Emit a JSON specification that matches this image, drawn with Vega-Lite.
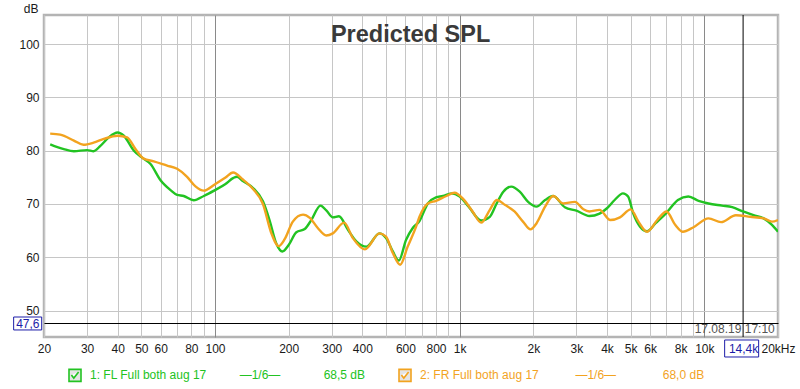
{
  "$schema": "https://vega.github.io/schema/vega-lite/v6.json",
  "width": 734,
  "height": 322,
  "autosize": {"type": "none"},
  "padding": {"left": 44, "top": 15, "right": 22, "bottom": 52},
  "background": "white",
  "config": {
    "view": {"stroke": "#b4b4b4", "strokeWidth": 2.5},
    "font": "Liberation Sans"
  },
  "datasets": {
    "curves": [
      {"series": "1: FL Full both aug 17", "f": 21.2, "db": 81.2},
      {"series": "1: FL Full both aug 17", "f": 24.1, "db": 80.3},
      {"series": "1: FL Full both aug 17", "f": 26.5, "db": 79.9},
      {"series": "1: FL Full both aug 17", "f": 30, "db": 80.1},
      {"series": "1: FL Full both aug 17", "f": 31.9, "db": 79.9},
      {"series": "1: FL Full both aug 17", "f": 34.0, "db": 80.9},
      {"series": "1: FL Full both aug 17", "f": 36.8, "db": 82.5},
      {"series": "1: FL Full both aug 17", "f": 40, "db": 83.4},
      {"series": "1: FL Full both aug 17", "f": 42.4, "db": 82.8},
      {"series": "1: FL Full both aug 17", "f": 46.6, "db": 80.0},
      {"series": "1: FL Full both aug 17", "f": 50, "db": 78.8},
      {"series": "1: FL Full both aug 17", "f": 54.5, "db": 77.5},
      {"series": "1: FL Full both aug 17", "f": 60, "db": 74.4},
      {"series": "1: FL Full both aug 17", "f": 65.8, "db": 72.6},
      {"series": "1: FL Full both aug 17", "f": 70, "db": 71.7},
      {"series": "1: FL Full both aug 17", "f": 74.5, "db": 71.5},
      {"series": "1: FL Full both aug 17", "f": 81.8, "db": 70.7},
      {"series": "1: FL Full both aug 17", "f": 90, "db": 71.5},
      {"series": "1: FL Full both aug 17", "f": 100, "db": 72.6},
      {"series": "1: FL Full both aug 17", "f": 110, "db": 73.7},
      {"series": "1: FL Full both aug 17", "f": 119, "db": 74.9},
      {"series": "1: FL Full both aug 17", "f": 123, "db": 75.1},
      {"series": "1: FL Full both aug 17", "f": 130, "db": 74.3},
      {"series": "1: FL Full both aug 17", "f": 143, "db": 73.0},
      {"series": "1: FL Full both aug 17", "f": 157, "db": 70.5},
      {"series": "1: FL Full both aug 17", "f": 167, "db": 67.0},
      {"series": "1: FL Full both aug 17", "f": 178, "db": 62.6},
      {"series": "1: FL Full both aug 17", "f": 188.5, "db": 61.1},
      {"series": "1: FL Full both aug 17", "f": 200, "db": 62.3},
      {"series": "1: FL Full both aug 17", "f": 215, "db": 64.7},
      {"series": "1: FL Full both aug 17", "f": 232.6, "db": 65.3},
      {"series": "1: FL Full both aug 17", "f": 247.6, "db": 67.0},
      {"series": "1: FL Full both aug 17", "f": 269.7, "db": 69.7},
      {"series": "1: FL Full both aug 17", "f": 285, "db": 68.8},
      {"series": "1: FL Full both aug 17", "f": 303, "db": 67.5},
      {"series": "1: FL Full both aug 17", "f": 321, "db": 67.7},
      {"series": "1: FL Full both aug 17", "f": 349, "db": 65.2},
      {"series": "1: FL Full both aug 17", "f": 378, "db": 63.0},
      {"series": "1: FL Full both aug 17", "f": 416, "db": 62.0},
      {"series": "1: FL Full both aug 17", "f": 470, "db": 64.5},
      {"series": "1: FL Full both aug 17", "f": 500, "db": 63.6},
      {"series": "1: FL Full both aug 17", "f": 533, "db": 61.1},
      {"series": "1: FL Full both aug 17", "f": 564, "db": 59.4},
      {"series": "1: FL Full both aug 17", "f": 604, "db": 63.3},
      {"series": "1: FL Full both aug 17", "f": 643, "db": 65.5},
      {"series": "1: FL Full both aug 17", "f": 685, "db": 66.8},
      {"series": "1: FL Full both aug 17", "f": 741, "db": 70.1},
      {"series": "1: FL Full both aug 17", "f": 800, "db": 71.25},
      {"series": "1: FL Full both aug 17", "f": 855, "db": 71.5},
      {"series": "1: FL Full both aug 17", "f": 923, "db": 72.0},
      {"series": "1: FL Full both aug 17", "f": 1000, "db": 71.4},
      {"series": "1: FL Full both aug 17", "f": 1088, "db": 69.5},
      {"series": "1: FL Full both aug 17", "f": 1224, "db": 66.9},
      {"series": "1: FL Full both aug 17", "f": 1328, "db": 67.6},
      {"series": "1: FL Full both aug 17", "f": 1416, "db": 70.1},
      {"series": "1: FL Full both aug 17", "f": 1508, "db": 72.3},
      {"series": "1: FL Full both aug 17", "f": 1625, "db": 73.25},
      {"series": "1: FL Full both aug 17", "f": 1760, "db": 72.3},
      {"series": "1: FL Full both aug 17", "f": 1904, "db": 70.4},
      {"series": "1: FL Full both aug 17", "f": 2062, "db": 69.5},
      {"series": "1: FL Full both aug 17", "f": 2234, "db": 70.75},
      {"series": "1: FL Full both aug 17", "f": 2410, "db": 71.5},
      {"series": "1: FL Full both aug 17", "f": 2690, "db": 69.4},
      {"series": "1: FL Full both aug 17", "f": 3000, "db": 68.75},
      {"series": "1: FL Full both aug 17", "f": 3390, "db": 67.75},
      {"series": "1: FL Full both aug 17", "f": 3730, "db": 68.2},
      {"series": "1: FL Full both aug 17", "f": 4000, "db": 69.2},
      {"series": "1: FL Full both aug 17", "f": 4300, "db": 70.75},
      {"series": "1: FL Full both aug 17", "f": 4650, "db": 72.0},
      {"series": "1: FL Full both aug 17", "f": 4880, "db": 71.4},
      {"series": "1: FL Full both aug 17", "f": 5120, "db": 68.25},
      {"series": "1: FL Full both aug 17", "f": 5460, "db": 65.75},
      {"series": "1: FL Full both aug 17", "f": 5830, "db": 64.9},
      {"series": "1: FL Full both aug 17", "f": 6320, "db": 66.4},
      {"series": "1: FL Full both aug 17", "f": 6970, "db": 68.25},
      {"series": "1: FL Full both aug 17", "f": 7800, "db": 70.75},
      {"series": "1: FL Full both aug 17", "f": 8600, "db": 71.4},
      {"series": "1: FL Full both aug 17", "f": 9470, "db": 70.6},
      {"series": "1: FL Full both aug 17", "f": 10400, "db": 70.1},
      {"series": "1: FL Full both aug 17", "f": 11800, "db": 69.7},
      {"series": "1: FL Full both aug 17", "f": 13000, "db": 69.4},
      {"series": "1: FL Full both aug 17", "f": 14400, "db": 68.6},
      {"series": "1: FL Full both aug 17", "f": 15880, "db": 67.9},
      {"series": "1: FL Full both aug 17", "f": 17470, "db": 67.3},
      {"series": "1: FL Full both aug 17", "f": 18900, "db": 66.1},
      {"series": "1: FL Full both aug 17", "f": 20000, "db": 64.8},
      {"series": "2: FR Full both aug 17", "f": 21.2, "db": 83.2},
      {"series": "2: FR Full both aug 17", "f": 23.3, "db": 83.0},
      {"series": "2: FR Full both aug 17", "f": 26.5, "db": 81.9},
      {"series": "2: FR Full both aug 17", "f": 29.0, "db": 81.1},
      {"series": "2: FR Full both aug 17", "f": 31.9, "db": 81.5},
      {"series": "2: FR Full both aug 17", "f": 35.1, "db": 82.2},
      {"series": "2: FR Full both aug 17", "f": 40, "db": 82.8},
      {"series": "2: FR Full both aug 17", "f": 43.7, "db": 82.5},
      {"series": "2: FR Full both aug 17", "f": 47.3, "db": 80.3},
      {"series": "2: FR Full both aug 17", "f": 51.1, "db": 78.5},
      {"series": "2: FR Full both aug 17", "f": 56.2, "db": 78.0},
      {"series": "2: FR Full both aug 17", "f": 63.7, "db": 77.2},
      {"series": "2: FR Full both aug 17", "f": 70, "db": 76.6},
      {"series": "2: FR Full both aug 17", "f": 76.9, "db": 75.1},
      {"series": "2: FR Full both aug 17", "f": 83.2, "db": 73.3},
      {"series": "2: FR Full both aug 17", "f": 90, "db": 72.5},
      {"series": "2: FR Full both aug 17", "f": 100, "db": 73.7},
      {"series": "2: FR Full both aug 17", "f": 110, "db": 74.9},
      {"series": "2: FR Full both aug 17", "f": 118.5, "db": 75.9},
      {"series": "2: FR Full both aug 17", "f": 130, "db": 74.6},
      {"series": "2: FR Full both aug 17", "f": 143, "db": 72.8},
      {"series": "2: FR Full both aug 17", "f": 157, "db": 70.0},
      {"series": "2: FR Full both aug 17", "f": 170, "db": 64.5},
      {"series": "2: FR Full both aug 17", "f": 182, "db": 62.1},
      {"series": "2: FR Full both aug 17", "f": 192.6, "db": 63.4},
      {"series": "2: FR Full both aug 17", "f": 208, "db": 66.7},
      {"series": "2: FR Full both aug 17", "f": 229, "db": 68.0},
      {"series": "2: FR Full both aug 17", "f": 244, "db": 67.4},
      {"series": "2: FR Full both aug 17", "f": 263, "db": 65.5},
      {"series": "2: FR Full both aug 17", "f": 285, "db": 64.1},
      {"series": "2: FR Full both aug 17", "f": 303, "db": 64.5},
      {"series": "2: FR Full both aug 17", "f": 337, "db": 66.5},
      {"series": "2: FR Full both aug 17", "f": 366, "db": 63.6},
      {"series": "2: FR Full both aug 17", "f": 410, "db": 61.5},
      {"series": "2: FR Full both aug 17", "f": 470, "db": 64.5},
      {"series": "2: FR Full both aug 17", "f": 500, "db": 63.9},
      {"series": "2: FR Full both aug 17", "f": 533, "db": 60.8},
      {"series": "2: FR Full both aug 17", "f": 571, "db": 58.6},
      {"series": "2: FR Full both aug 17", "f": 613, "db": 62.0},
      {"series": "2: FR Full both aug 17", "f": 664, "db": 65.8},
      {"series": "2: FR Full both aug 17", "f": 685, "db": 67.6},
      {"series": "2: FR Full both aug 17", "f": 741, "db": 70.1},
      {"series": "2: FR Full both aug 17", "f": 800, "db": 70.6},
      {"series": "2: FR Full both aug 17", "f": 883, "db": 71.5},
      {"series": "2: FR Full both aug 17", "f": 953, "db": 72.1},
      {"series": "2: FR Full both aug 17", "f": 1035, "db": 70.9},
      {"series": "2: FR Full both aug 17", "f": 1129, "db": 68.6},
      {"series": "2: FR Full both aug 17", "f": 1224, "db": 66.5},
      {"series": "2: FR Full both aug 17", "f": 1328, "db": 68.9},
      {"series": "2: FR Full both aug 17", "f": 1416, "db": 70.75},
      {"series": "2: FR Full both aug 17", "f": 1535, "db": 69.8},
      {"series": "2: FR Full both aug 17", "f": 1675, "db": 68.6},
      {"series": "2: FR Full both aug 17", "f": 1814, "db": 66.7},
      {"series": "2: FR Full both aug 17", "f": 1947, "db": 65.25},
      {"series": "2: FR Full both aug 17", "f": 2062, "db": 66.4},
      {"series": "2: FR Full both aug 17", "f": 2234, "db": 69.5},
      {"series": "2: FR Full both aug 17", "f": 2410, "db": 71.5},
      {"series": "2: FR Full both aug 17", "f": 2647, "db": 70.1},
      {"series": "2: FR Full both aug 17", "f": 2958, "db": 70.4},
      {"series": "2: FR Full both aug 17", "f": 3204, "db": 69.0},
      {"series": "2: FR Full both aug 17", "f": 3390, "db": 68.6},
      {"series": "2: FR Full both aug 17", "f": 3730, "db": 68.9},
      {"series": "2: FR Full both aug 17", "f": 4130, "db": 67.0},
      {"series": "2: FR Full both aug 17", "f": 4520, "db": 67.5},
      {"series": "2: FR Full both aug 17", "f": 5000, "db": 69.0},
      {"series": "2: FR Full both aug 17", "f": 5380, "db": 66.7},
      {"series": "2: FR Full both aug 17", "f": 5830, "db": 64.8},
      {"series": "2: FR Full both aug 17", "f": 6420, "db": 67.0},
      {"series": "2: FR Full both aug 17", "f": 7000, "db": 68.6},
      {"series": "2: FR Full both aug 17", "f": 7600, "db": 66.1},
      {"series": "2: FR Full both aug 17", "f": 8170, "db": 64.8},
      {"series": "2: FR Full both aug 17", "f": 9000, "db": 65.6},
      {"series": "2: FR Full both aug 17", "f": 10400, "db": 67.3},
      {"series": "2: FR Full both aug 17", "f": 11700, "db": 66.6},
      {"series": "2: FR Full both aug 17", "f": 13450, "db": 67.9},
      {"series": "2: FR Full both aug 17", "f": 15400, "db": 67.6},
      {"series": "2: FR Full both aug 17", "f": 17470, "db": 67.3},
      {"series": "2: FR Full both aug 17", "f": 18900, "db": 66.7},
      {"series": "2: FR Full both aug 17", "f": 20000, "db": 67.0}
    ],
    "cursor": [{"f": 14400}],
    "boxes": [
      {"f1": 15.03, "f2": 19.57, "d1": 46.38, "d2": 48.81},
      {"f1": 12106, "f2": 16670, "d1": 41.31, "d2": 44.5}
    ],
    "title": [{"f": 630, "db": 101.6, "text": "Predicted SPL"}],
    "stamp": [{"f": 19400, "db": 46.6, "text": "17.08.19 17:10"}]
  },
  "layer": [
    {
      "data": {"name": "cursor"},
      "mark": {"type": "rule", "color": "#000000", "strokeWidth": 1},
      "encoding": {
        "x": {"field": "f", "type": "quantitative", "scale": {"type": "log", "domain": [20, 20000], "nice": false}}
      }
    },
    {
      "data": {"name": "curves"},
      "mark": {"type": "line", "interpolate": "monotone", "strokeWidth": 2.4, "clip": true},
      "encoding": {
        "x": {
          "field": "f",
          "type": "quantitative",
          "scale": {"type": "log", "domain": [20, 20000], "nice": false},
          "axis": {
            "title": null,
            "values": [20, 30, 40, 50, 60, 70, 80, 90, 100, 200, 300, 400, 500, 600, 700, 800, 900, 1000, 2000, 3000, 4000, 5000, 6000, 7000, 8000, 9000, 10000, 14400, 20000],
            "labelExpr": "datum.value == 14400 ? '14,4k' : datum.value == 20000 ? '20kHz' : indexof([20,30,40,50,60,80,100,200,300,400,600,800], datum.value) >= 0 ? datum.value + '' : indexof([1000,2000,3000,4000,5000,6000,8000,10000], datum.value) >= 0 ? (datum.value / 1000) + 'k' : ''",
            "ticks": false,
            "domain": false,
            "labelPadding": 6,
            "labelBaseline": "top",
            "labelFontSize": 12,
            "labelFont": "Liberation Sans",
            "labelOverlap": false,
            "labelFlush": false,
            "labelBound": false,
            "labelColor": {"condition": {"test": "datum.value == 14400", "value": "#1c1ca8"}, "value": "#1a1a1a"},
            "gridColor": {"condition": {"test": "datum.value == 100 || datum.value == 1000 || datum.value == 10000", "value": "#8a8a8a"}, "value": "#c6c6c6"},
            "gridOpacity": {"condition": {"test": "datum.value == 14400", "value": 0}, "value": 1}
          }
        },
        "y": {
          "field": "db",
          "type": "quantitative",
          "scale": {"domain": [45.06, 105.44], "nice": false, "zero": false},
          "axis": {
            "values": [50, 60, 70, 80, 90, 100, 47.6],
            "labelExpr": "datum.value == 47.6 ? '47,6' : datum.label",
            "ticks": false,
            "domain": false,
            "labelPadding": 5,
            "labelFontSize": 12,
            "labelFont": "Liberation Sans",
            "labelOverlap": false,
            "labelBaseline": "middle",
            "labelColor": {"condition": {"test": "datum.value == 47.6", "value": "#1c1ca8"}, "value": "#1a1a1a"},
            "gridColor": {"condition": {"test": "datum.value == 47.6", "value": "#000000"}, "value": "#c6c6c6"},
            "title": "dB",
            "titleAngle": 0,
            "titleX": -6,
            "titleY": -7,
            "titleAlign": "right",
            "titleBaseline": "middle",
            "titleFontWeight": "normal",
            "titleFontSize": 12,
            "titleFont": "Liberation Sans",
            "titleColor": "#1a1a1a"
          }
        },
        "color": {
          "field": "series",
          "type": "nominal",
          "scale": {"domain": ["1: FL Full both aug 17", "2: FR Full both aug 17"], "range": ["#22c322", "#f2a31f"]},
          "legend": {
            "orient": "none",
            "legendX": 24,
            "legendY": 353,
            "direction": "horizontal",
            "title": null,
            "padding": 0,
            "symbolType": "M-1,-1H1V1H-1Z M-0.6,-0.05L-0.2,0.45L0.6,-0.55",
            "symbolSize": 144,
            "symbolStrokeWidth": 1.6,
            "symbolStrokeColor": "#333333",
            "symbolFillColor": "#e4e4e4",
            "labelOffset": 8,
            "labelFontSize": 12,
            "labelFont": "Liberation Sans",
            "labelLimit": 0,
            "columnPadding": 29,
            "labelExpr": "datum.label == '1: FL Full both aug 17' ? datum.label + '\u00a0\u00a0\u00a0\u00a0\u00a0\u00a0\u00a0\u00a0\u00a0\u00a0—1/6—\u00a0\u00a0\u00a0\u00a0\u00a0\u00a0\u00a0\u00a0\u00a0\u00a0\u00a0\u00a0\u00a068,5 dB' : datum.label + '\u00a0\u00a0\u00a0\u00a0\u00a0\u00a0\u00a0\u00a0\u00a0\u00a0\u00a0—1/6—\u00a0\u00a0\u00a0\u00a0\u00a0\u00a0\u00a0\u00a0\u00a0\u00a0\u00a0\u00a0\u00a0\u00a068,0 dB'",
            "encode": {
              "symbols": {"update": {"fill": {"value": "#e4e4e4"}, "strokeWidth": {"value": 1.6}}},
              "labels": {"update": {"fill": {"signal": "scale('color', datum.value)"}}}
            }
          }
        }
      }
    },
    {
      "data": {"name": "boxes"},
      "mark": {"type": "rect", "filled": false, "stroke": "#1c1ca8", "strokeWidth": 1, "clip": false},
      "encoding": {
        "x": {"field": "f1", "type": "quantitative"},
        "x2": {"field": "f2"},
        "y": {"field": "d1", "type": "quantitative"},
        "y2": {"field": "d2"}
      }
    },
    {
      "data": {"name": "title"},
      "mark": {"type": "text", "font": "Liberation Sans", "fontSize": 23.5, "fontWeight": "bold", "color": "#3a3a3a", "align": "center", "baseline": "middle"},
      "encoding": {
        "x": {"field": "f", "type": "quantitative"},
        "y": {"field": "db", "type": "quantitative"},
        "text": {"field": "text"}
      }
    },
    {
      "data": {"name": "stamp"},
      "mark": {"type": "text", "font": "Liberation Sans", "fontSize": 12, "color": "#555555", "align": "right", "baseline": "middle"},
      "encoding": {
        "x": {"field": "f", "type": "quantitative"},
        "y": {"field": "db", "type": "quantitative"},
        "text": {"field": "text"}
      }
    }
  ]
}
